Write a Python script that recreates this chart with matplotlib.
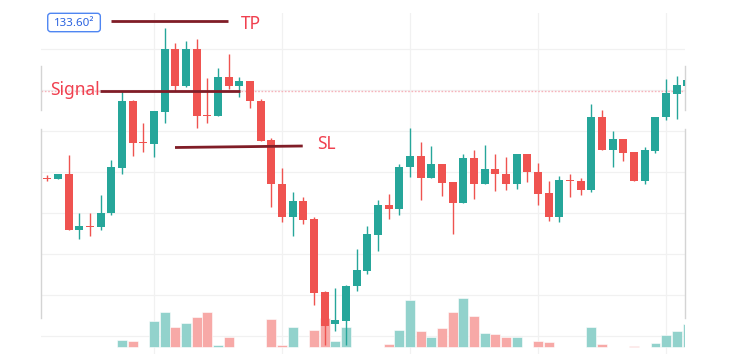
import matplotlib
matplotlib.use("Agg")
import matplotlib.pyplot as plt
from matplotlib.patches import FancyBboxPatch
import numpy as np

# candle data (price)
opens = [133.822, 133.821, 133.826, 133.770, 133.774, 133.773, 133.787, 133.832, 133.899, 133.858,
         133.856, 133.888, 133.951, 133.914, 133.951, 133.885, 133.884, 133.923, 133.914, 133.919,
         133.899, 133.860, 133.816, 133.783, 133.799, 133.781, 133.708, 133.676, 133.679, 133.714,
         133.729, 133.765, 133.795, 133.791, 133.833, 133.844, 133.822, 133.836, 133.818, 133.797,
         133.842, 133.816, 133.831, 133.826, 133.816, 133.846, 133.828, 133.807, 133.783, 133.820,
         133.819, 133.810, 133.883, 133.850, 133.861, 133.848, 133.819, 133.849, 133.883, 133.906,
         133.914]
highs = [133.825, 133.826, 133.845, 133.787, 133.787, 133.805, 133.840, 133.909, 133.900, 133.877,
         133.889, 133.972, 133.957, 133.959, 133.961, 133.922, 133.932, 133.946, 133.923, 133.919,
         133.901, 133.862, 133.832, 133.808, 133.803, 133.783, 133.709, 133.712, 133.715, 133.751,
         133.774, 133.800, 133.806, 133.836, 133.872, 133.858, 133.854, 133.836, 133.818, 133.846,
         133.850, 133.855, 133.846, 133.843, 133.846, 133.846, 133.837, 133.819, 133.824, 133.826,
         133.822, 133.896, 133.890, 133.869, 133.861, 133.848, 133.853, 133.883, 133.921, 133.924,
         133.935]
lows = [133.819, 133.821, 133.770, 133.761, 133.764, 133.770, 133.785, 133.826, 133.844, 133.848,
        133.843, 133.877, 133.909, 133.913, 133.872, 133.877, 133.884, 133.911, 133.903, 133.892,
        133.859, 133.793, 133.778, 133.764, 133.776, 133.695, 133.655, 133.669, 133.655, 133.709,
        133.726, 133.749, 133.781, 133.785, 133.823, 133.800, 133.822, 133.804, 133.766, 133.797,
        133.801, 133.816, 133.809, 133.810, 133.811, 133.818, 133.795, 133.779, 133.778, 133.803,
        133.805, 133.808, 133.850, 133.833, 133.839, 133.819, 133.816, 133.847, 133.880, 133.881,
        133.914]
closes = [133.821, 133.826, 133.770, 133.774, 133.773, 133.787, 133.833, 133.899, 133.857, 133.857,
          133.889, 133.951, 133.914, 133.951, 133.884, 133.884, 133.923, 133.914, 133.919, 133.899,
          133.859, 133.816, 133.783, 133.799, 133.780, 133.707, 133.674, 133.680, 133.714, 133.730,
          133.766, 133.795, 133.791, 133.833, 133.844, 133.822, 133.836, 133.817, 133.797, 133.842,
          133.816, 133.831, 133.826, 133.816, 133.846, 133.828, 133.806, 133.783, 133.820, 133.819,
          133.810, 133.883, 133.850, 133.861, 133.847, 133.819, 133.850, 133.883, 133.907, 133.915,
          133.920]
volumes = [0, 0, 0, 0, 0, 0, 0, 700, 570, 0,
           2600, 3470, 2000, 2370, 3000, 3530, 200, 1030, 0, 0,
           0, 2830, 200, 2030, 0, 1700, 2900, 630, 2030, 0,
           0, 0, 330, 1730, 4700, 1600, 1030, 1930, 3530, 4870,
           3100, 1400, 1300, 970, 970, 50, 600, 500, 0, 0,
           0, 2000, 300, 50, 0, 100, 0, 430, 1230, 1600,
           2300]

# trade levels: price, first bar, last bar
tp_level = (133.979, 5.97, 16.96)
signal_level = (133.909, 4.94, 18.06)
sl_level = (133.8525, 133.854, 11.97, 23.94)
last_price_label = "133.60\u00b2"

grid_prices = [133.951, 133.910, 133.869, 133.828, 133.787, 133.746, 133.705, 133.664]
grid_bars = [10, 22, 34, 46, 58]

GREEN = "#26a69a"
RED = "#ef5350"
VOL_GREEN = "#92d2cc"
VOL_RED = "#f7a9a7"
MAROON = "#801d27"
TEXT_RED = "#f0404f"
GRID = "#f1f1f1"

plt.rcParams["font.family"] = ["Noto Sans", "DejaVu Sans"]

fig = plt.figure(figsize=(7.3, 3.54), dpi=100)
rect = [41 / 730, 0, 643.5 / 730, 341 / 354]
ax_grid = fig.add_axes(rect)
ax_vol = fig.add_axes(rect, sharex=ax_grid)
ax = fig.add_axes(rect, sharex=ax_grid)
for a in (ax_grid, ax_vol, ax):
    a.set_axis_off()
ax_vol.patch.set_visible(False)
ax.patch.set_visible(False)

x = np.arange(len(opens))
o = np.array(opens)
h = np.array(highs)
l = np.array(lows)
c = np.array(closes)
up = c >= o

# grid
for gp in grid_prices:
    ax_grid.axhline(gp, color=GRID, lw=0.9, zorder=0)
for gb in grid_bars:
    ax_grid.axvline(gb, color=GRID, lw=0.9, zorder=0)

# volume
vcol = np.where(up, VOL_GREEN, VOL_RED)
ax_vol.bar(x, volumes, width=0.93, color=vcol, edgecolor="#ffffff", linewidth=0.4)

# candles
ccol = np.where(up, GREEN, RED)
ax.vlines(x, l, h, colors=ccol, lw=1.0, zorder=2)
body_lo = np.minimum(o, c)
body_h = np.maximum(np.abs(c - o), 0.0012)
ax.bar(x, body_h, bottom=body_lo, width=0.75, color=ccol, zorder=3, linewidth=0)

# signal dotted line
ax.axhline(signal_level[0], color="#f6b3bb", lw=1.0, ls=(0, (1.2, 1.2)), zorder=1)

# level lines
ax.plot([tp_level[1], tp_level[2]], [tp_level[0], tp_level[0]], color=MAROON, lw=2.0,
        solid_capstyle="butt", zorder=4)
ax.plot([signal_level[1], signal_level[2]], [signal_level[0], signal_level[0]], color=MAROON,
        lw=2.0, solid_capstyle="butt", zorder=4)
ax.plot([sl_level[2], sl_level[3]], [sl_level[0], sl_level[1]], color=MAROON, lw=2.0,
        solid_capstyle="butt", zorder=4)

ax.text(18.15, 133.971, "TP", color=TEXT_RED, fontsize=12.5, va="baseline", ha="left", zorder=5)
ax.text(0.25, 133.905, "Signal", color=TEXT_RED, fontsize=12.5, va="baseline", ha="left", zorder=5)
ax.text(25.25, 133.851, "SL", color=TEXT_RED, fontsize=12.5, va="baseline", ha="left", zorder=5)

# price label box
box = FancyBboxPatch((0.04, 133.9683), 4.93, 0.0184,
                     boxstyle="round,pad=0,rounding_size=0.28", mutation_aspect=0.0107,
                     facecolor="white", edgecolor="#4f86f2", lw=1.0, zorder=6, clip_on=False)
ax.add_patch(box)
ax.text(2.5, 133.9735, last_price_label, color="#2a62e0", fontsize=8.3, ha="center",
        va="baseline", zorder=7, clip_on=False)

# frame pieces at left/right edges
for xa in (0, 1):
    ax.plot([xa, xa], [0.8446, 0.7155], color="#d4d4d4", lw=1.0, transform=ax.transAxes, clip_on=False)
    ax.plot([xa, xa], [0.6598, 0.1056], color="#d4d4d4", lw=1.0, transform=ax.transAxes, clip_on=False)

ax_grid.set_xlim(-0.59, 59.72)
ax_grid.set_ylim(133.646, 133.987)
ax.set_ylim(133.646, 133.987)
ax_vol.set_ylim(-700, 33400)

fig.savefig("out.png", dpi=100)
